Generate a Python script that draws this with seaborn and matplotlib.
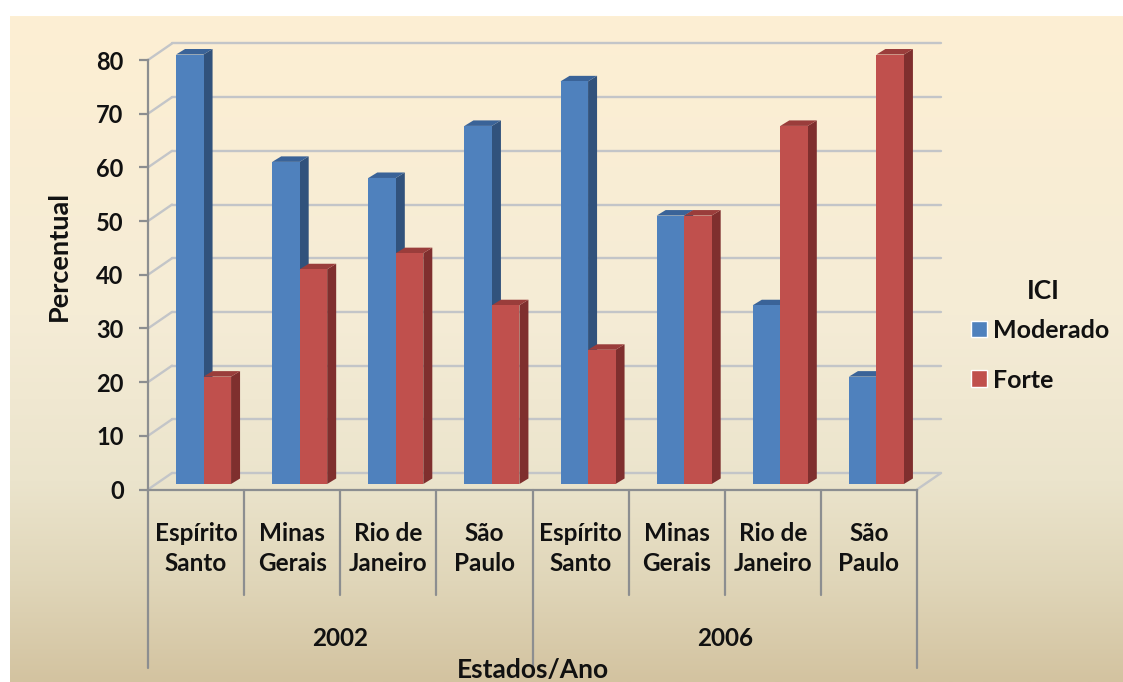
import numpy as np
import pandas as pd
import matplotlib
matplotlib.use("Agg")
import matplotlib.pyplot as plt
from matplotlib.colors import LinearSegmentedColormap
from matplotlib.patches import Polygon
import seaborn as sns

states = ["Espírito\nSanto", "Minas\nGerais", "Rio de\nJaneiro", "São\nPaulo"]
years = ["2002", "2006"]
moderado = [80, 60, 57, 66.7, 75, 50, 33.3, 20]
forte = [20, 40, 43, 33.3, 25, 50, 66.7, 80]
series_names = ["Moderado", "Forte"]
y_ticks = list(range(0, 90, 10))

W, H = 1123, 682
sns.set_theme(style="white")
plt.rcParams["font.family"] = ["Lato", "DejaVu Sans"]
plt.rcParams["font.weight"] = "bold"
TXT = "#111111"
AXC = "#8C8E90"
GRID = "#C3C5C8"
FS_TICK = 17
FS_CAT = 17.5
FS_TITLE = 19
FS_LEG = 18

fig = plt.figure(figsize=(W / 100, H / 100), dpi=100, facecolor="white")

# gradient panel
bg = fig.add_axes([10 / W, 0, (W - 10) / W, (H - 16) / H], zorder=0)
cmap = LinearSegmentedColormap.from_list(
    "panel", [(0, "#FDEFD3"), (0.45, "#F5ECD6"), (0.7, "#EBE4CC"), (0.85, "#E0D6B9"), (1, "#D3C3A0")])
bg.imshow(np.linspace(0, 1, 256)[:, None], aspect="auto", cmap=cmap, vmin=0, vmax=1)
bg.axis("off")

ax = fig.add_axes([148 / W, (H - 489.5) / H, 769 / W, 429.5 / H], zorder=1)
ax.patch.set_alpha(0)

labels = states * 2
df = pd.DataFrame({
    "pos": np.tile(np.arange(len(labels)), 2),
    "valor": moderado + forte,
    "serie": np.repeat(series_names, len(labels)),
})
sns.barplot(data=df, x="pos", y="valor", hue="serie", hue_order=series_names, order=list(range(len(labels))),
            palette=["#4F81BD", "#C0504D"], width=0.572, gap=0, dodge=True, saturation=1, ax=ax, legend=True)

ax.set_xlim(-0.5, len(labels) - 0.5)
ax.set_ylim(0, 80)
px_x = 769 / len(labels)
px_y = 429.5 / 80

# pseudo-3D geometry, in pixels
wall_dx, wall_dy = 24 / px_x, 16.5 / px_y
bar_sx, bar_sy = 7.5 / px_x, 5.5 / px_y
dep_x, dep_y = 9 / px_x, 5.5 / px_y

# back wall and floor
x0, x1 = -0.5, len(labels) - 0.5
for t in y_ticks:
    ax.plot([x0 + wall_dx, x1 + wall_dx], [t + wall_dy] * 2, color=GRID, lw=1.7, clip_on=False, zorder=1)
    ax.plot([x0, x0 + wall_dx], [t, t + wall_dy], color=GRID, lw=1.7, clip_on=False, zorder=1)
ax.plot([x1, x1 + wall_dx], [0, wall_dy], color=GRID, lw=1.7, clip_on=False, zorder=1)

side_cols = ["#31527C", "#7F2F2E"]
top_cols = ["#3A6398", "#9A3D3B"]
n = len(labels)
bars = [p for c in ax.containers for p in c]
for i, p in enumerate(bars):
    s = i // n
    p.set_x(p.get_x() + bar_sx)
    p.set_y(bar_sy)
    p.set_clip_on(False)
    p.set_edgecolor("none")
    p.set_zorder(3 + 2 * s + 0.5)
    l, r = p.get_x(), p.get_x() + p.get_width()
    b, t = p.get_y(), p.get_y() + p.get_height()
    ax.add_patch(Polygon([(r, b), (r + dep_x, b + dep_y), (r + dep_x, t + dep_y), (r, t)],
                         fc=side_cols[s], ec="none", clip_on=False, zorder=3 + 2 * s))
    ax.add_patch(Polygon([(l, t), (l + dep_x, t + dep_y), (r + dep_x, t + dep_y), (r, t)],
                         fc=top_cols[s], ec="none", clip_on=False, zorder=3 + 2 * s))

# axes
sns.despine(ax=ax, top=True, right=True)
for side in ("left", "bottom"):
    ax.spines[side].set_color(AXC)
    ax.spines[side].set_linewidth(1.6)
    ax.spines[side].set_zorder(6)

ax.set_yticks(y_ticks)
ax.set_yticklabels([str(t) for t in y_ticks], fontsize=FS_TICK, color=TXT, fontweight="bold")
ax.tick_params(axis="y", length=6.5, width=1.6, color=AXC, pad=11, left=True)
ax.set_xticks(range(n))
ax.set_xticklabels(labels, fontsize=FS_CAT, color=TXT, fontweight="bold", linespacing=1.38)
ax.tick_params(axis="x", length=0, pad=23.5)

# multi-level category separators
sep_short = -(595 - 489.5) / px_y
sep_long = -(668 - 489.5) / px_y
for k in range(n + 1):
    edge = k - 0.5
    ax.plot([edge, edge], [0, sep_long if k % 4 == 0 else sep_short], color=AXC, lw=1.6, clip_on=False, zorder=6)
for j, yr in enumerate(years):
    ax.text(4 * j + 1.5, -(638 - 489.5) / px_y, yr, ha="center", va="center",
            fontsize=FS_CAT, color=TXT, fontweight="bold")

ax.set_xlabel("")
ax.text((533 - 148) / px_x - 0.5, -(670 - 489.5) / px_y, "Estados/Ano", ha="center", va="center",
        fontsize=FS_TITLE, color=TXT, fontweight="bold", zorder=7)
ax.set_ylabel("Percentual", fontsize=FS_TITLE + 0.5, color=TXT, fontweight="bold")
ax.yaxis.set_label_coords((71 - 148) / 769, (489.5 - 256) / 429.5)

sns.move_legend(ax, "upper left", bbox_to_anchor=(971 / W, (H - 319) / H), bbox_transform=fig.transFigure,
                title=None, frameon=False, fontsize=FS_LEG,
                labelspacing=1.06, handlelength=0.64, handleheight=0.64, handletextpad=0.24, borderpad=0, borderaxespad=0)
leg = ax.get_legend()
for txt in leg.get_texts():
    txt.set_color(TXT)
    txt.set_fontweight("bold")
fig.text(1043 / W, (H - 291) / H, "ICI", ha="center", va="center", fontsize=FS_LEG + 1, color=TXT, fontweight="bold", zorder=5)

fig.savefig("out.png", dpi=100)
